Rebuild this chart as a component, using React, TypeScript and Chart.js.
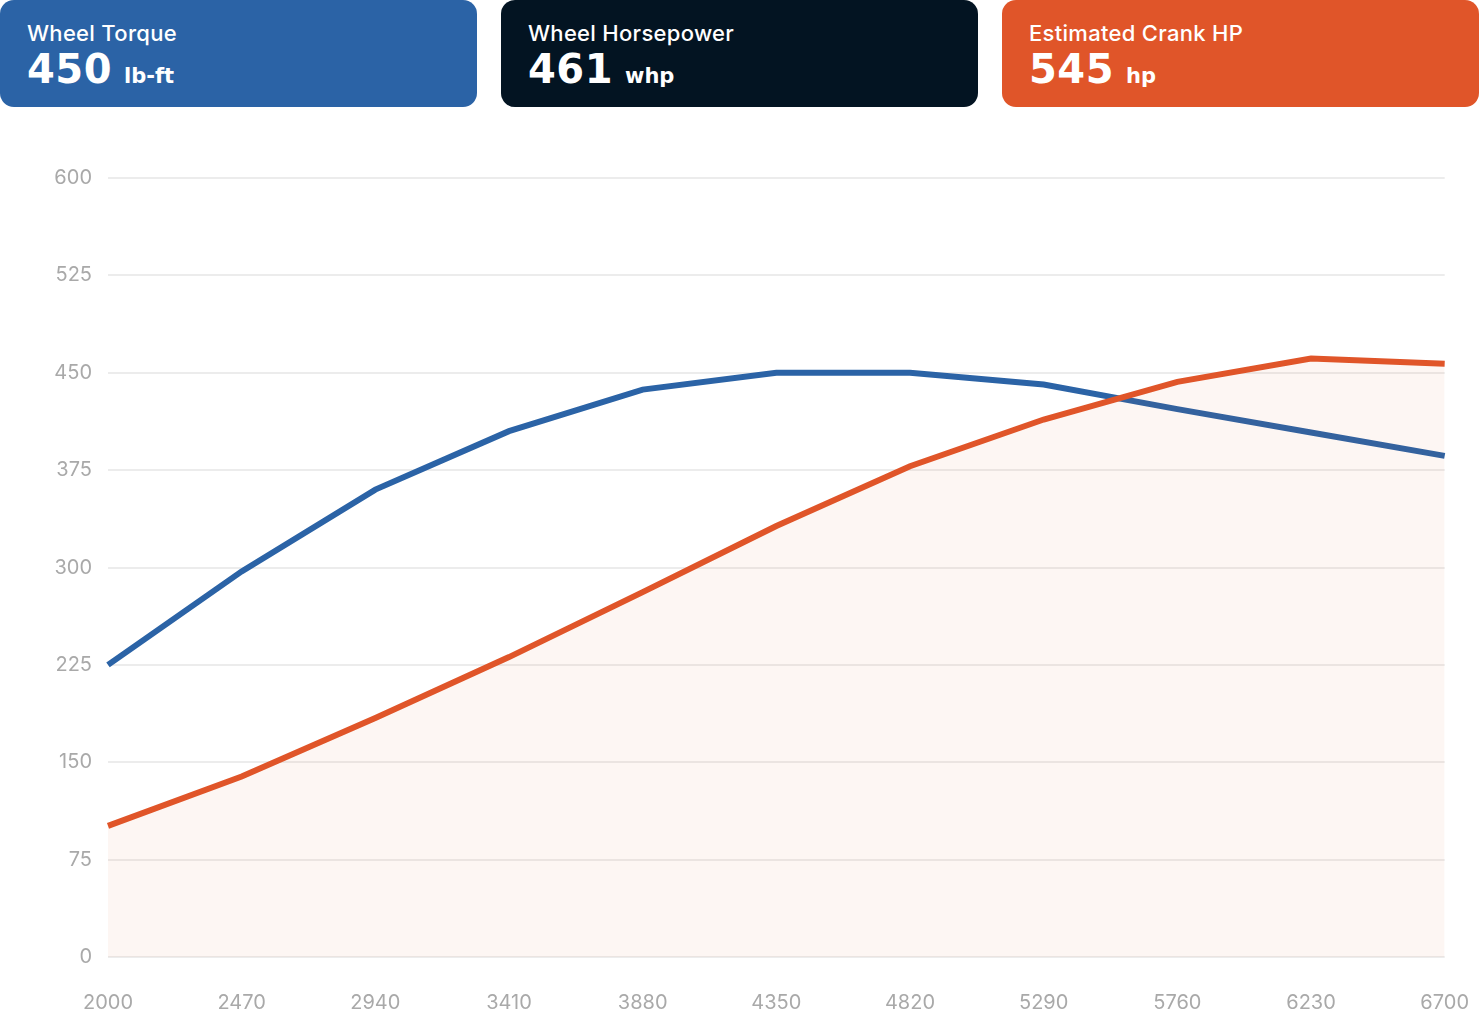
import React, { useEffect, useRef } from "react";
import { Chart, registerables } from "chart.js";

Chart.register(...registerables);

const rpmLabels = ["2000", "2470", "2940", "3410", "3880", "4350", "4820", "5290", "5760", "6230", "6700"];
const wheelTorque = [225, 297, 360, 405, 437, 450, 450, 441, 422, 404, 386];
const crankHp = [101, 139, 184, 231, 281, 332, 378, 414, 443, 461, 457];

const cardTitles = ["Wheel Torque", "Wheel Horsepower", "Estimated Crank HP"];
const cardValues = ["450", "461", "545"];
const cardUnits = ["lb-ft", "whp", "hp"];
const cardColors = ["#2b63a6", "#031422", "#e05529"];

const BLUE = "#2b63a6";
const ORANGE = "#e05529";

function Card({ i }: { i: number }) {
  return (
    <div
      style={{
        position: "absolute",
        left: i * 501,
        top: 0,
        width: 477,
        height: 107,
        borderRadius: 14,
        background: cardColors[i],
        color: "#fff",
      }}
    >
      <div
        style={{
          position: "absolute",
          left: 27,
          top: 20,
          fontFamily: "Inter, sans-serif",
          fontWeight: 500,
          fontSize: 22,
          letterSpacing: 0.3,
          lineHeight: "27px",
          whiteSpace: "nowrap",
        }}
      >
        {cardTitles[i]}
      </div>
      <div
        style={{
          position: "absolute",
          left: 27,
          top: 47,
          whiteSpace: "nowrap",
          lineHeight: "44px",
        }}
      >
        <span style={{ fontFamily: "'DejaVu Sans', sans-serif", fontWeight: 700, fontSize: 40, letterSpacing: 0.5 }}>
          {cardValues[i]}
        </span>
        <span
          style={{
            fontFamily: "'DejaVu Sans', sans-serif",
            fontWeight: 700,
            fontSize: 21,
            marginLeft: 12,
          }}
        >
          {cardUnits[i]}
        </span>
      </div>
    </div>
  );
}

export default function App() {
  const canvasRef = useRef<HTMLCanvasElement | null>(null);

  useEffect(() => {
    document.body.style.margin = "0";
    const ctx = canvasRef.current;
    if (!ctx) return;
    const chart = new Chart(ctx, {
      type: "line",
      data: {
        labels: rpmLabels,
        datasets: [
          {
            label: "Wheel Torque",
            data: wheelTorque,
            borderColor: BLUE,
            borderWidth: 6,
            pointRadius: 0,
            fill: false,
            tension: 0,
            order: 1,
          },
          {
            label: "Estimated Crank HP",
            data: crankHp,
            borderColor: ORANGE,
            backgroundColor: "rgba(224,85,41,0.055)",
            borderWidth: 6,
            pointRadius: 0,
            fill: "origin",
            tension: 0,
            order: 0,
          },
        ],
      },
      options: {
        animation: false,
        responsive: true,
        maintainAspectRatio: false,
        layout: { padding: { top: 48, right: 14, left: 0, bottom: 0 } },
        plugins: {
          legend: { display: false },
          tooltip: { enabled: false },
        },
        scales: {
          x: {
            grid: { display: false, drawTicks: false },
            border: { display: false },
            offset: false,
            ticks: {
              color: "#a9a9a9",
              font: { family: "Inter, sans-serif", size: 20 },
              padding: 34,
              maxRotation: 0,
              autoSkip: false,
            },
            afterFit: (s: any) => {
              s.height = 59;
            },
          },
          y: {
            min: 0,
            max: 600,
            grid: { color: "#ececec", lineWidth: 2, drawTicks: false },
            border: { display: false },
            ticks: {
              stepSize: 75,
              color: "#a9a9a9",
              font: { family: "Inter, sans-serif", size: 20 },
              padding: 16,
            },
            afterFit: (s: any) => {
              s.width = 108;
            },
          },
        },
      },
    });
    return () => chart.destroy();
  }, []);

  return (
    <div style={{ position: "relative", width: 1480, height: 1016, background: "#fff", overflow: "hidden" }}>
      <Card i={0} />
      <Card i={1} />
      <Card i={2} />
      <div style={{ position: "absolute", left: 0, top: 130, width: 1503, height: 886 }}>
        <canvas ref={canvasRef} />
      </div>
    </div>
  );
}
